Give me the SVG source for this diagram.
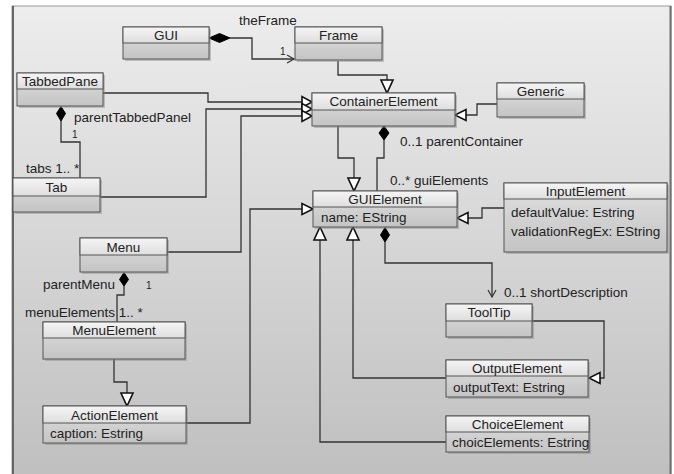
<svg xmlns="http://www.w3.org/2000/svg" width="674" height="474" viewBox="0 0 674 474">
<defs>
<linearGradient id="bg" x1="0" y1="0" x2="0" y2="1"><stop offset="0" stop-color="#ededed"/><stop offset="1" stop-color="#bfbfbf"/></linearGradient>
<linearGradient id="hd" x1="0" y1="0" x2="0" y2="1"><stop offset="0" stop-color="#f5f5f5"/><stop offset="1" stop-color="#dedede"/></linearGradient>
<linearGradient id="bd" x1="0" y1="0" x2="0" y2="1"><stop offset="0" stop-color="#e0e0e0"/><stop offset="1" stop-color="#c4c4c4"/></linearGradient>
</defs>
<style>
text{font-family:"Liberation Sans",Arial,sans-serif;font-size:13.5px;fill:#222}
.c{text-anchor:middle}
.s{font-size:10px}
.sh{fill:#8a8a8a;opacity:0.45}
.hd{fill:url(#hd);stroke:#555;stroke-width:1}
.bd{fill:url(#bd);stroke:#555;stroke-width:1}
.ln{fill:none;stroke:#333;stroke-width:1.3}
.tri{fill:#fff;stroke:#111;stroke-width:1.6;stroke-linejoin:miter}
.dia{fill:#000;stroke:#000;stroke-width:1}
.arr{fill:none;stroke:#333;stroke-width:1.2}
</style>
<rect x="12" y="6" width="659" height="475" fill="url(#bg)" stroke="#9a9a9a" stroke-width="1"/>
<line x1="13" y1="6" x2="13" y2="474" stroke="#666" stroke-width="2"/>
<line x1="670.5" y1="6" x2="670.5" y2="474" stroke="#707070" stroke-width="2"/>

<g id="connectors">
<!-- GUI -> Frame -->
<path class="ln" d="M230,38 H252 V59 H294"/>
<polygon class="dia" points="209,38 219.5,33.5 230,38 219.5,42.5"/>
<path class="arr" d="M287,55 L294,59 L287,63"/>
<text x="239" y="25">theFrame</text>
<text class="s" x="280" y="55">1</text>
<!-- Frame -> ContainerElement -->
<path class="ln" d="M338,61 V75 H387 V80"/>
<polygon class="tri" points="381,80 393,80 387,93"/>
<!-- TabbedPane, Tab, Menu -> ContainerElement -->
<path class="ln" d="M103,93 H208 V102 H302"/>
<path class="ln" d="M100,197 H206 V109 H302"/>
<path class="ln" d="M167,252 H241 V116 H302"/>
<polygon class="tri" points="302,96.5 302,107.5 312,102"/>
<polygon class="tri" points="302,103.5 302,114.5 312,109"/>
<polygon class="tri" points="302,110.5 302,121.5 312,116"/>
<!-- TabbedPane <>- Tab -->
<path class="ln" d="M61,121 V142 H80 V178"/>
<polygon class="dia" points="61,106.5 65.5,113.5 61,121 56.5,113.5"/>
<text x="74" y="122">parentTabbedPanel</text>
<text class="s" x="72" y="138">1</text>
<text x="26" y="173">tabs 1.. *</text>
<!-- Generic -> ContainerElement -->
<path class="ln" d="M497,104 H477 V115 H466"/>
<polygon class="tri" points="466,109.5 466,120.5 455,115"/>
<!-- ContainerElement -> GUIElement -->
<path class="ln" d="M338,126 V158 H354 V178"/>
<polygon class="tri" points="348,178 360,178 354,191"/>
<!-- ContainerElement <>- GUIElement -->
<path class="ln" d="M384,140 V158 H377 V191"/>
<polygon class="dia" points="384,126 389,133 384,140 379,133"/>
<text x="400" y="146">0..1 parentContainer</text>
<text x="390" y="185">0..* guiElements</text>
<!-- ActionElement -> GUIElement -->
<path class="ln" d="M186,423 H250 V209 H302"/>
<polygon class="tri" points="302,203.5 302,214.5 313,209"/>
<!-- Menu <>- MenuElement -->
<path class="ln" d="M124,286 V295 H117 V322"/>
<polygon class="dia" points="124,272.5 128.5,279.5 124,286 119.5,279.5"/>
<text x="43" y="289">parentMenu</text>
<text class="s" x="146" y="289">1</text>
<text x="25" y="317">menuElements 1.. *</text>
<!-- MenuElement -> ActionElement -->
<path class="ln" d="M114,359 V382 H127 V393"/>
<polygon class="tri" points="121,393 133,393 127,406"/>
<!-- InputElement -> GUIElement -->
<path class="ln" d="M504,208 H482 V218 H468"/>
<polygon class="tri" points="468,212.5 468,223.5 457,218"/>
<!-- GUIElement <>- ToolTip -->
<path class="ln" d="M385,242 V263 H492 V297"/>
<polygon class="dia" points="385,227.5 389.5,235 385,242 380.5,235"/>
<path class="arr" d="M488,290 L492,297 L496,290"/>
<text x="504" y="297">0..1 shortDescription</text>
<!-- OutputElement -> GUIElement -->
<path class="ln" d="M446,378 H353 V240"/>
<polygon class="tri" points="347,240 359,240 353,227"/>
<!-- ChoiceElement -> GUIElement -->
<path class="ln" d="M446,442 H320 V240"/>
<polygon class="tri" points="314,240 326,240 320,227"/>
<!-- ToolTip -> OutputElement -->
<path class="ln" d="M532,321 H604 V378 H600"/>
<polygon class="tri" points="600,372.5 600,383.5 589,378"/>
</g>

<g id="GUI">
<rect class="sh" x="125" y="29" width="86" height="32"/>
<rect class="bd" x="123" y="27" width="86" height="32"/>
<rect class="hd" x="123" y="27" width="86" height="16"/>
<text class="c" x="166" y="40">GUI</text>
</g>
<g id="Frame">
<rect class="sh" x="297" y="29" width="87" height="33"/>
<rect class="bd" x="295" y="27" width="87" height="33"/>
<rect class="hd" x="295" y="27" width="87" height="16"/>
<text class="c" x="338.5" y="40">Frame</text>
</g>
<g id="TabbedPane">
<rect class="sh" x="19" y="75" width="86" height="33"/>
<rect class="bd" x="17" y="73" width="86" height="33"/>
<rect class="hd" x="17" y="73" width="86" height="16"/>
<text class="c" x="60" y="86">TabbedPane</text>
</g>
<g id="ContainerElement">
<rect class="sh" x="314" y="95" width="143" height="33"/>
<rect class="bd" x="312" y="93" width="143" height="33"/>
<rect class="hd" x="312" y="93" width="143" height="17"/>
<text class="c" x="383.5" y="106">ContainerElement</text>
</g>
<g id="Generic">
<rect class="sh" x="499" y="85" width="87" height="34"/>
<rect class="bd" x="497" y="83" width="87" height="34"/>
<rect class="hd" x="497" y="83" width="87" height="16"/>
<text class="c" x="540.5" y="96">Generic</text>
</g>
<g id="Tab">
<rect class="sh" x="15" y="180" width="87" height="34"/>
<rect class="bd" x="13" y="178" width="87" height="34"/>
<rect class="hd" x="13" y="178" width="87" height="18"/>
<text class="c" x="56.5" y="192">Tab</text>
</g>
<g id="Menu">
<rect class="sh" x="82" y="240" width="87" height="34"/>
<rect class="bd" x="80" y="238" width="87" height="34"/>
<rect class="hd" x="80" y="238" width="87" height="17"/>
<text class="c" x="123.5" y="252">Menu</text>
</g>
<g id="MenuElement">
<rect class="sh" x="45" y="324" width="142" height="37"/>
<rect class="bd" x="43" y="322" width="142" height="37"/>
<rect class="hd" x="43" y="322" width="142" height="16"/>
<text class="c" x="114" y="335">MenuElement</text>
</g>
<g id="ActionElement">
<rect class="sh" x="45" y="408" width="143" height="37"/>
<rect class="bd" x="43" y="406" width="143" height="37"/>
<rect class="hd" x="43" y="406" width="143" height="17"/>
<text class="c" x="114.5" y="420">ActionElement</text>
<text x="50" y="438">caption: Estring</text>
</g>
<g id="GUIElement">
<rect class="sh" x="315" y="193" width="144" height="36"/>
<rect class="bd" x="313" y="191" width="144" height="36"/>
<rect class="hd" x="313" y="191" width="144" height="16"/>
<text class="c" x="385" y="204">GUIElement</text>
<text x="321" y="222">name: EString</text>
</g>
<g id="InputElement">
<rect class="sh" x="506" y="185" width="163" height="69"/>
<rect class="bd" x="504" y="183" width="163" height="69"/>
<rect class="hd" x="504" y="183" width="163" height="16"/>
<text class="c" x="585.5" y="196">InputElement</text>
<text x="511" y="217">defaultValue: Estring</text>
<text x="511" y="236">validationRegEx: EString</text>
</g>
<g id="ToolTip">
<rect class="sh" x="448" y="306" width="86" height="33"/>
<rect class="bd" x="446" y="304" width="86" height="33"/>
<rect class="hd" x="446" y="304" width="86" height="17"/>
<text class="c" x="489" y="317">ToolTip</text>
</g>
<g id="OutputElement">
<rect class="sh" x="448" y="362" width="142" height="37"/>
<rect class="bd" x="446" y="360" width="142" height="37"/>
<rect class="hd" x="446" y="360" width="142" height="16"/>
<text class="c" x="517" y="373">OutputElement</text>
<text x="453" y="392">outputText: Estring</text>
</g>
<g id="ChoiceElement">
<rect class="sh" x="448" y="418" width="143" height="36"/>
<rect class="bd" x="446" y="416" width="143" height="36"/>
<rect class="hd" x="446" y="416" width="143" height="16"/>
<text class="c" x="517.5" y="429">ChoiceElement</text>
<text x="452" y="447">choicElements: Estring</text>
</g>
</svg>
